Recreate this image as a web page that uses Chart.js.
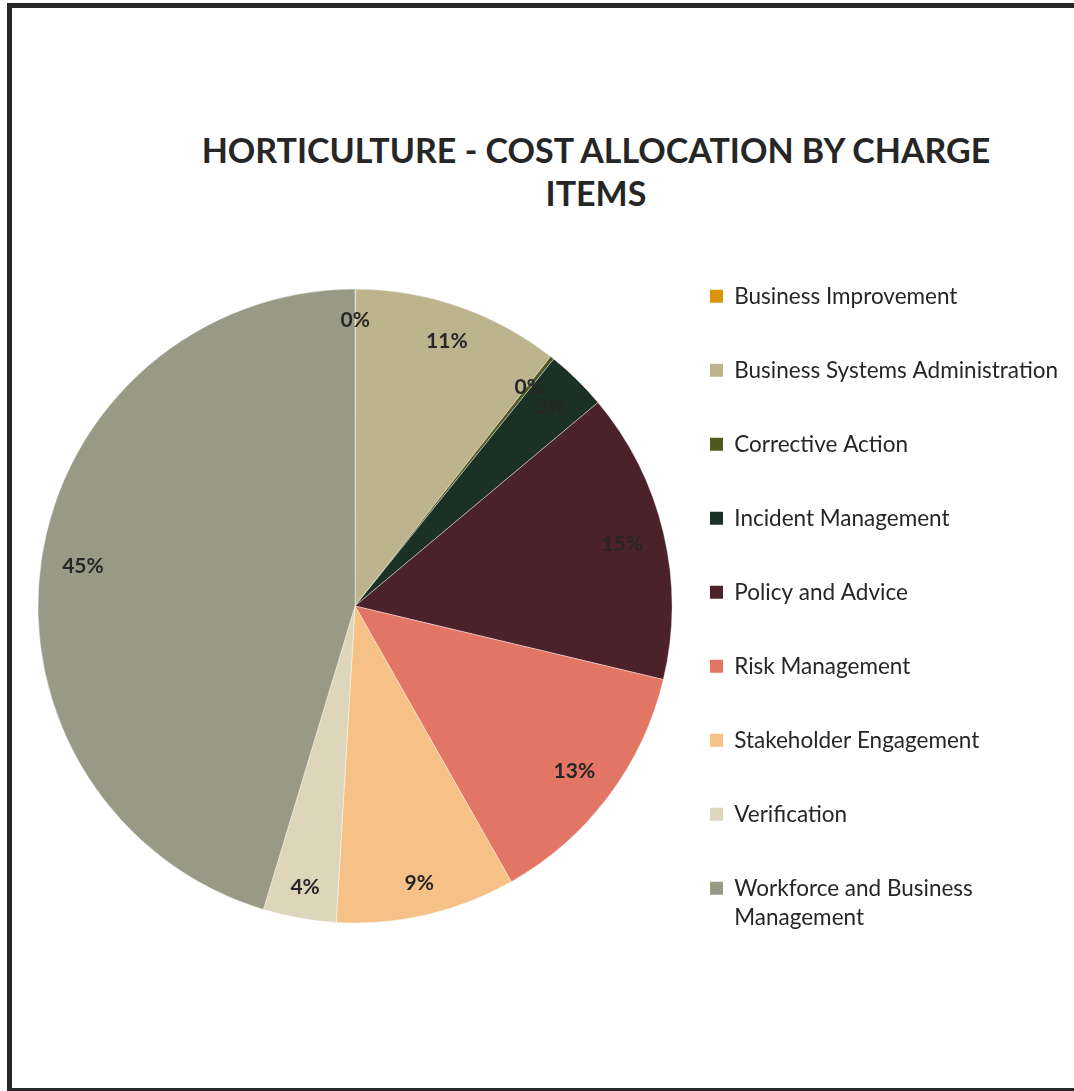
<!DOCTYPE html>
<html>
<head>
<meta charset="utf-8">
<script src="https://cdn.jsdelivr.net/npm/chart.js@4.4.1/dist/chart.umd.min.js"></script>
<style>
  html, body { margin: 0; padding: 0; background: #fff; overflow: hidden; }
  #frame {
    position: absolute; left: 7px; top: 3px;
    width: 1180px; height: 1080px;
    border: 5px solid #262626;
  }
  #title {
    position: absolute; left: 196px; top: 128px; width: 800px;
    text-align: center; font: bold 34px/43px Lato, sans-serif; color: #262626;
  }
  #chart { position: absolute; left: 12px; top: 8px; }
</style>
</head>
<body>
<div id="frame"></div>
<div id="title">HORTICULTURE - COST ALLOCATION BY CHARGE<br>ITEMS</div>
<canvas id="chart" width="1168" height="1080"></canvas>
<script>
const categories = [
  'Business Improvement',
  'Business Systems Administration',
  'Corrective Action',
  'Incident Management',
  'Policy and Advice',
  'Risk Management',
  'Stakeholder Engagement',
  'Verification',
  ['Workforce and Business', 'Management']
];
const shares = [0.03, 10.55, 0.2, 3.12, 14.82, 13.06, 9.15, 3.72, 45.32];
const sliceColors = ['#d99308', '#bdb38c', '#4f5a1e', '#1c3125', '#4b212a', '#e37564', '#f6c187', '#ddd6bb', '#989a86'];

const FONT = 'Lato';
const legendFont = { family: FONT, size: 22.5, lineHeight: 29 / 22.5 };
const legendPad = 45;
const legendBox = 13;

// legend sits to the right; its width depends on the longest label
const mctx = document.createElement('canvas').getContext('2d');
mctx.font = `${legendFont.size}px ${FONT}`;
const longest = Math.max(...categories.flat().map(t => mctx.measureText(t).width));
const legendW = legendPad + legendBox + legendFont.size / 2 + longest + 10;
const legendLeft = 665;

// percentage labels kept just inside the rim
const pctLabels = {
  id: 'pctLabels',
  afterDatasetsDraw(chart) {
    const ctx = chart.ctx;
    const meta = chart.getDatasetMeta(0);
    const total = shares.reduce((a, b) => a + b, 0);
    ctx.save();
    ctx.font = `bold 21px ${FONT}`;
    ctx.fillStyle = '#262626';
    ctx.textAlign = 'center';
    ctx.textBaseline = 'alphabetic';
    meta.data.forEach((arc, i) => {
      const p = arc.getProps(['x', 'y', 'startAngle', 'endAngle', 'outerRadius'], true);
      const txt = Math.round(shares[i] / total * 100) + '%';
      const w = ctx.measureText(txt).width;
      const mid = (p.startAngle + p.endAngle) / 2;
      const r = p.outerRadius - 20 - (Math.abs(Math.cos(mid)) * w / 2 + Math.abs(Math.sin(mid)) * 10);
      ctx.fillText(txt, p.x + Math.cos(mid) * r, p.y + Math.sin(mid) * r + 7.5);
    });
    ctx.restore();
  }
};

new Chart(document.getElementById('chart'), {
  type: 'pie',
  data: {
    labels: categories,
    datasets: [{
      data: shares,
      backgroundColor: sliceColors,
      borderColor: 'rgba(255,255,255,0.4)',
      borderWidth: 1,
      radius: 317,
      clip: false
    }]
  },
  options: {
    responsive: false,
    animation: false,
    layout: { padding: { left: 33, right: 1180 - legendLeft - legendW, top: 218, bottom: 102 } },
    plugins: {
      tooltip: { enabled: false },
      legend: {
        position: 'right',
        title: { display: true, text: '', padding: 0, font: { size: 8, lineHeight: 1 } },
        labels: {
          color: '#262626',
          font: legendFont,
          boxWidth: legendBox,
          boxHeight: legendBox,
          padding: legendPad,
          generateLabels: chart => {
            const items = Chart.overrides.pie.plugins.legend.labels.generateLabels(chart);
            return items.map(it => ({ ...it, text: [].concat(it.text), lineWidth: 0 }));
          }
        }
      }
    }
  },
  plugins: [pctLabels]
});
</script>
</body>
</html>
